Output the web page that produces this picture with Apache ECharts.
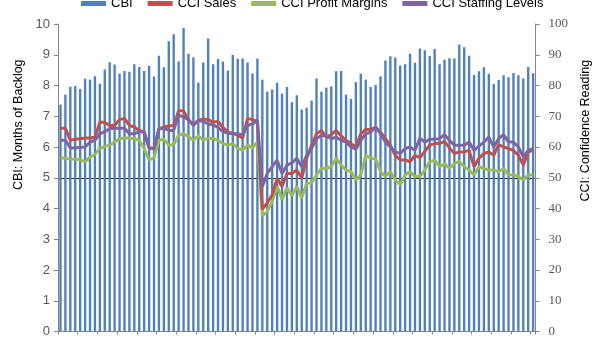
<!DOCTYPE html>
<html>
<head>
<meta charset="utf-8">
<script src="https://cdn.jsdelivr.net/npm/echarts@6/dist/echarts.min.js"></script>
<style>
html,body{margin:0;padding:0;background:#fff;}
#chart{width:600px;height:338px;}
</style>
</head>
<body>
<div id="chart"></div>
<script>
const cbi = [
  7.38, 7.70, 7.96, 7.98, 7.89, 8.22, 8.19, 8.30, 8.06, 8.52,
  8.76, 8.68, 8.39, 8.47, 8.45, 8.69, 8.60, 8.47, 8.64, 8.29,
  8.97, 8.59, 9.44, 9.67, 8.78, 9.87, 9.03, 8.92, 8.09, 8.75,
  9.53, 8.69, 8.86, 8.78, 8.49, 8.99, 8.87, 8.88, 8.75, 8.39,
  8.88, 8.19, 7.80, 7.87, 8.09, 7.74, 7.95, 7.46,
  7.68, 7.22, 7.28, 7.51, 8.23, 7.80, 7.93, 7.97, 8.46, 8.47,
  7.70, 7.56, 8.11, 8.38, 8.19, 7.95, 8.02, 8.30, 8.81, 8.95,
  8.91, 8.65, 8.69, 9.03, 8.74, 9.20, 9.15, 8.96, 9.19, 8.69,
  8.84, 8.89, 8.88, 9.33, 9.24, 8.97, 8.34, 8.46, 8.59, 8.38,
  8.05, 8.18, 8.33, 8.27, 8.41, 8.33, 8.23, 8.60, 8.40
];
const cciSales = [
  66.1, 66.1, 62.2, 62.5, 62.7, 62.9, 62.9, 63.2, 68.1, 68.0, 67.0, 67.0,
  68.9, 69.3, 67.0, 66.5, 65.4, 64.9, 59.7, 59.5, 65.9, 66.5, 66.8, 67.0,
  71.8, 71.8, 68.6, 67.5, 68.6, 69.1, 68.9, 68.1, 68.3, 66.4, 64.8, 64.5,
  63.8, 62.9, 69.3, 68.9, 68.3, 39.7, 41.8, 44.5, 49.8, 47.2, 51.4, 51.4,
  52.5, 49.9, 56.3, 60.6, 64.3, 65.4, 63.2, 64.0, 65.4, 63.6, 62.2, 61.1,
  60.0, 64.3, 65.7, 65.7, 66.5, 64.8, 62.7, 60.6, 57.3, 55.8, 55.8, 55.2,
  57.3, 56.5, 58.6, 60.6, 61.1, 61.1, 61.8, 59.7, 57.9, 58.4, 58.4, 58.9,
  53.6, 56.3, 57.9, 58.4, 57.3, 60.8, 60.0, 59.5, 58.9, 57.3, 54.1, 58.4, 58.9
];
const cciProfit = [
  56.5, 56.3, 56.1, 56.0, 55.8, 55.2, 56.8, 57.6, 59.5, 60.2, 60.6, 61.6,
  62.7, 62.9, 62.9, 62.7, 62.2, 59.5, 55.8, 56.5, 62.2, 62.5, 60.6, 60.8,
  63.8, 64.3, 63.3, 62.2, 63.6, 62.2, 62.9, 62.7, 62.2, 61.1, 60.6, 61.1,
  59.5, 59.0, 60.6, 59.7, 61.6, 37.5, 39.1, 42.3, 47.2, 42.9, 46.7, 44.2,
  47.2, 43.4, 48.2, 48.2, 50.9, 53.0, 53.0, 53.6, 56.3, 54.1, 52.5, 52.0,
  49.3, 50.9, 57.3, 56.3, 56.3, 52.0, 50.4, 52.0, 49.3, 47.7, 50.9, 52.0,
  50.4, 50.4, 52.5, 55.2, 55.7, 53.6, 54.6, 53.0, 54.6, 55.4, 53.6, 52.5,
  50.9, 53.6, 53.0, 52.5, 52.5, 52.0, 53.0, 50.9, 50.9, 50.4, 49.3, 50.9, 50.9
];
const cciStaffing = [
  62.2, 62.2, 59.7, 59.7, 59.9, 60.0, 61.6, 62.2, 64.3, 65.0, 65.9, 66.1,
  66.1, 66.1, 64.3, 64.3, 65.0, 64.8, 59.7, 59.5, 65.9, 66.1, 65.4, 65.4,
  70.4, 69.7, 69.0, 67.0, 68.6, 68.3, 67.5, 67.2, 66.4, 65.0, 64.5, 64.3,
  64.3, 63.9, 67.0, 67.5, 68.6, 47.2, 51.4, 53.6, 55.7, 51.4, 54.1, 54.8,
  56.3, 53.6, 57.3, 59.5, 62.7, 63.8, 63.6, 62.7, 63.2, 62.2, 61.6, 60.0,
  59.3, 62.2, 64.3, 64.8, 66.5, 64.3, 61.6, 60.0, 58.4, 57.9, 59.5, 60.0,
  58.9, 62.9, 61.6, 62.5, 62.5, 62.7, 64.0, 62.2, 60.6, 60.6, 60.6, 61.6,
  58.9, 60.3, 61.6, 63.2, 60.0, 62.7, 64.0, 61.6, 61.6, 60.0, 56.8, 58.9, 59.5
];
const categories = cbi.map((_, i) => String(i + 1));
const seriesNames = ['CBI', 'CCI Sales', 'CCI Profit Margins', 'CCI Staffing Levels'];
const referenceLevel = 50;

const chart = echarts.init(document.getElementById('chart'), null, {renderer: 'canvas'});
const axisGray = '#868686';
chart.setOption({
  animation: false,
  backgroundColor: '#ffffff',
  textStyle: {fontFamily: 'Liberation Sans, Arial, sans-serif'},
  legend: {
    data: seriesNames,
    top: -8,
    left: 76,
    itemWidth: 25,
    itemHeight: 5,
    itemGap: 15,
    icon: 'rect',
    textStyle: {fontSize: 13, color: '#000', fontFamily: 'Liberation Sans, Arial, sans-serif'}
  },
  grid: {left: 58, right: 50, top: 24, bottom: 3, containLabel: false},
  xAxis: {
    type: 'category',
    data: categories,
    boundaryGap: true,
    axisLine: {show: true, lineStyle: {color: axisGray, width: 1}},
    axisTick: {show: true, length: 3, lineStyle: {color: axisGray}},
    axisLabel: {show: false},
    splitLine: {show: false}
  },
  yAxis: [
    {
      type: 'value', min: 0, max: 10, interval: 1,
      name: 'CBI: Months of Backlog',
      nameLocation: 'middle', nameRotate: 90, nameGap: 30,
      nameTextStyle: {fontSize: 12.5, color: '#000', fontFamily: 'Liberation Sans, Arial, sans-serif', padding: [0, 0, 0, 106]},
      axisLine: {show: true, lineStyle: {color: axisGray}},
      axisTick: {show: true, inside: false, length: 4, lineStyle: {color: axisGray}},
      axisLabel: {fontSize: 13, color: '#595959', margin: 8, fontFamily: 'Liberation Sans, Arial, sans-serif'},
      splitLine: {show: false}
    },
    {
      type: 'value', min: 0, max: 100, interval: 10,
      name: 'CCI: Confidence Reading',
      nameLocation: 'middle', nameRotate: 90, nameGap: 32,
      nameTextStyle: {fontSize: 12.5, color: '#000', fontFamily: 'Liberation Sans, Arial, sans-serif', padding: [0, 0, 0, 94]},
      axisLine: {show: true, lineStyle: {color: axisGray}},
      axisTick: {show: true, inside: false, length: 4, lineStyle: {color: axisGray}},
      axisLabel: {fontSize: 13, color: '#595959', margin: 13, fontFamily: 'Liberation Serif, Times New Roman, serif'},
      splitLine: {show: false}
    },
    {
      type: 'value', min: 0, max: 100, interval: referenceLevel,
      position: 'right',
      axisLine: {show: false},
      axisTick: {show: false},
      axisLabel: {show: false},
      splitLine: {show: true, showMinLine: false, showMaxLine: false, lineStyle: {color: '#222', width: 1}}
    }
  ],
  series: [
    {
      name: 'CBI', type: 'bar', yAxisIndex: 0, data: cbi,
      barWidth: '48%',
      itemStyle: {color: '#4F81BD'},
      z: 10
    },
    {
      name: 'CCI Sales', type: 'line', yAxisIndex: 1, data: cciSales,
      symbol: 'none', lineStyle: {color: '#C0504D', width: 3}, itemStyle: {color: '#C0504D'}, z: 12
    },
    {
      name: 'CCI Profit Margins', type: 'line', yAxisIndex: 1, data: cciProfit,
      symbol: 'none', lineStyle: {color: '#9BBB59', width: 3}, itemStyle: {color: '#9BBB59'}, z: 11
    },
    {
      name: 'CCI Staffing Levels', type: 'line', yAxisIndex: 1, data: cciStaffing,
      symbol: 'none', lineStyle: {color: '#8064A2', width: 3}, itemStyle: {color: '#8064A2'}, z: 13
    }
  ]
});
</script>
</body>
</html>
